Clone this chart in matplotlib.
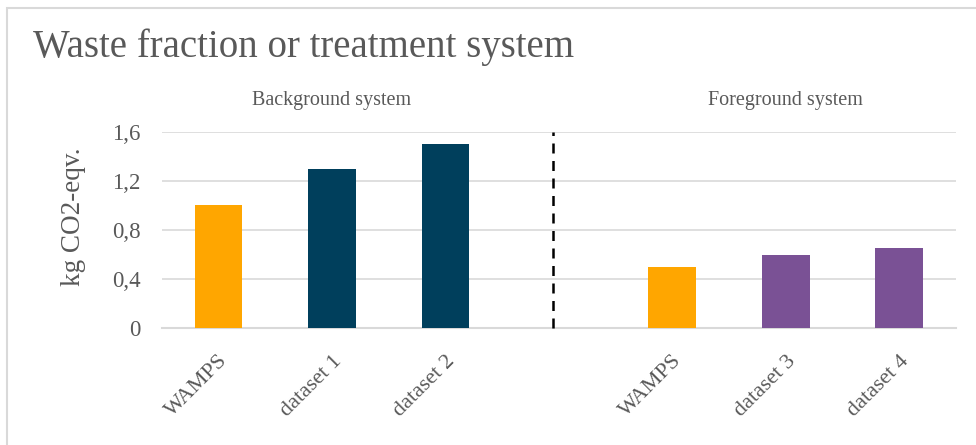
import matplotlib
matplotlib.use('Agg')
import matplotlib.pyplot as plt
from matplotlib.patches import Rectangle

# data
categories = ['WAMPS', 'dataset 1', 'dataset 2', '', 'WAMPS', 'dataset 3', 'dataset 4']
values = [1.0, 1.3, 1.5, 0.0, 0.5, 0.6, 0.65]
bar_colors = ['#FFA600', '#003F5C', '#003F5C', 'none', '#FFA600', '#7A5195', '#7A5195']
yticks = [0, 0.4, 0.8, 1.2, 1.6]
ytick_labels = ['0', '0,4', '0,8', '1,2', '1,6']
groups = ['Background system', 'Foreground system']
group_centers = [1, 5]
divider_x = 2.95

plt.rcParams['font.family'] = ['Liberation Serif', 'DejaVu Serif']
text_gray = '#595959'
grid_gray = '#D9D9D9'

fig = plt.figure(figsize=(9.76, 4.45), dpi=100)
ax = fig.add_axes([0.1657, 0.2629, 0.8138, 0.4405])

x = list(range(len(categories)))
ax.bar(x, values, width=0.42, color=bar_colors, zorder=3)

ax.set_xlim(-0.5, len(categories) - 0.5)
ax.set_ylim(0, 1.6)
ax.set_yticks(yticks)
ax.set_yticklabels(ytick_labels)
ax.yaxis.grid(True, color=grid_gray, linewidth=1.2, zorder=0)
ax.tick_params(axis='y', length=0, pad=15, labelsize=16.5, labelcolor=text_gray)

ax.set_xticks([i for i in x if categories[i]])
ax.set_xticklabels([c for c in categories if c], rotation=45, ha='right',
                   rotation_mode='anchor', fontsize=16, color=text_gray)
ax.tick_params(axis='x', length=0, pad=17)

for side in ['top', 'right', 'left']:
    ax.spines[side].set_visible(False)
ax.spines['bottom'].set_color(grid_gray)
ax.spines['bottom'].set_linewidth(1.5)

# dashed divider between the two systems
ax.plot([divider_x, divider_x], [0, 1.6], color='black', linestyle=(0, (4, 3)),
        linewidth=1.8, zorder=4, clip_on=False)

# group captions
for gx, g in zip(group_centers, groups):
    ax.text(gx, 1.86, g, ha='center', va='center', fontsize=14.5, color=text_gray)

fig.text(33 / 976, 1 - 47 / 445, 'Waste fraction or treatment system', ha='left', va='center',
         fontsize=28, color=text_gray)
fig.text(73 / 976, 1 - 217 / 445, 'kg CO2-eqv.', rotation=90, ha='center', va='center',
         fontsize=19.5, color=text_gray)

# chart area border (only top and left edges visible in the crop)
fig.patches.append(Rectangle((6.5 / 976, -0.1), 1.2, 1 - 7.5 / 445 + 0.1, transform=fig.transFigure,
                             fill=False, edgecolor=grid_gray, linewidth=1.5, zorder=0))

fig.savefig('out.png', dpi=100)
